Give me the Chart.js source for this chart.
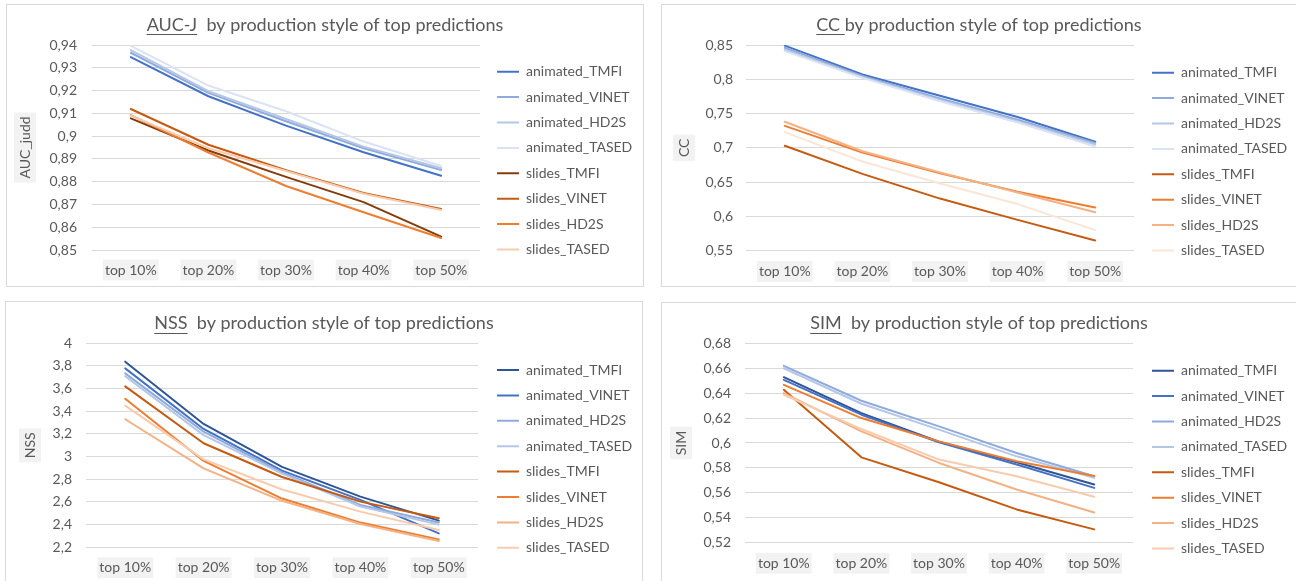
<!DOCTYPE html>
<html><head><meta charset="utf-8">
<script src="https://cdn.jsdelivr.net/npm/chart.js@4.4.1/dist/chart.umd.min.js"></script>
<style>
html,body{margin:0;padding:0;background:#fff;overflow:hidden;width:1296px;height:581px;position:relative;}
.panel{position:absolute;border:1px solid #d9d9d9;background:#fff;}
canvas{display:block;}
</style></head><body>
<div class="panel" id="w0"><canvas id="c0"></canvas></div>
<div class="panel" id="w1"><canvas id="c1"></canvas></div>
<div class="panel" id="w2"><canvas id="c2"></canvas></div>
<div class="panel" id="w3"><canvas id="c3"></canvas></div>
<script>
// ---------- data ----------
const categories = ['top 10%', 'top 20%', 'top 30%', 'top 40%', 'top 50%'];
const seriesNames = ['animated_TMFI', 'animated_VINET', 'animated_HD2S', 'animated_TASED',
                     'slides_TMFI', 'slides_VINET', 'slides_HD2S', 'slides_TASED'];

const aucjValues = [
  [0.9347, 0.9175, 0.9046, 0.8929, 0.8826],
  [0.9366, 0.9190, 0.9065, 0.8947, 0.8851],
  [0.9378, 0.9197, 0.9075, 0.8954, 0.8859],
  [0.9396, 0.9222, 0.9109, 0.8976, 0.8869],
  [0.9078, 0.8937, 0.8821, 0.8710, 0.8559],
  [0.9119, 0.8962, 0.8850, 0.8750, 0.8680],
  [0.9092, 0.8928, 0.8781, 0.8666, 0.8553],
  [0.9090, 0.8947, 0.8847, 0.8747, 0.8676]
];
const ccValues = [
  [0.849, 0.807, 0.776, 0.745, 0.709],
  [0.846, 0.805, 0.772, 0.741, 0.707],
  [0.843, 0.803, 0.770, 0.739, 0.705],
  [0.841, 0.802, 0.768, 0.737, 0.702],
  [0.703, 0.662, 0.626, 0.595, 0.565],
  [0.732, 0.693, 0.663, 0.636, 0.613],
  [0.738, 0.695, 0.664, 0.635, 0.606],
  [0.723, 0.680, 0.648, 0.618, 0.580]
];
const nssValues = [
  [3.838, 3.288, 2.910, 2.647, 2.435],
  [3.779, 3.244, 2.876, 2.618, 2.323],
  [3.735, 3.220, 2.860, 2.574, 2.418],
  [3.710, 3.190, 2.850, 2.560, 2.400],
  [3.620, 3.118, 2.820, 2.603, 2.456],
  [3.510, 2.962, 2.630, 2.418, 2.270],
  [3.330, 2.897, 2.610, 2.406, 2.255],
  [3.450, 2.976, 2.710, 2.515, 2.353]
];
const simValues = [
  [0.6528, 0.6240, 0.6010, 0.5845, 0.5667],
  [0.6507, 0.6227, 0.6005, 0.5827, 0.5640],
  [0.6619, 0.6339, 0.6133, 0.5920, 0.5733],
  [0.6600, 0.6315, 0.6107, 0.5893, 0.5720],
  [0.6427, 0.5885, 0.5685, 0.5467, 0.5307],
  [0.6467, 0.6200, 0.6013, 0.5853, 0.5735],
  [0.6400, 0.6093, 0.5840, 0.5627, 0.5443],
  [0.6387, 0.6112, 0.5867, 0.5733, 0.5568]
];

// ---------- styles ----------
const paletteAUC = ['#4472C4', '#8FAADC', '#B4C7E7', '#DAE3F3', '#843C0C', '#C55A11', '#ED7D31', '#F8CBAD'];
const paletteCC  = ['#4472C4', '#8FAADC', '#B4C7E7', '#DAE3F3', '#C55A11', '#ED7D31', '#F4B183', '#FBE5D6'];
const paletteNSS = ['#2F5597', '#4472C4', '#8FAADC', '#B4C7E7', '#C55A11', '#ED7D31', '#F4B183', '#F8CBAD'];
const paletteSIM = ['#2F5597', '#4472C4', '#8FAADC', '#B4C7E7', '#C55A11', '#ED7D31', '#F4B183', '#F8CBAD'];

const TEXT = '#595959';
const FONT = "Lato, 'Liberation Sans', sans-serif";
const TICK_SIZE = 14, TITLE_SIZE = 18, LEG_SIZE = 14, LEG_PAD = 11.4;

const panels = [
  {canvas: 'c0', wrap: 'w0', title: 'AUC-J  by production style of top predictions', word: 'AUC-J', yTitle: 'AUC_judd',
   values: aucjValues, colors: paletteAUC, min: 0.85, max: 0.94, step: 0.01,
   g: {L: 7, T: 5, W: 636, H: 281, cL: 92, cR: 480, cT: 45, cB: 250, titleY: 25, legY: 71.7, xLabY: 270, yTitX: 25, yTickR: 77, swatch: 497, noRight: false}},
  {canvas: 'c1', wrap: 'w1', title: 'CC by production style of top predictions', word: 'CC ', yTitle: 'CC',
   values: ccValues, colors: paletteCC, min: 0.55, max: 0.85, step: 0.05,
   g: {L: 662, T: 5, W: 634, H: 281, cL: 746, cR: 1134, cT: 45, cB: 250.7, titleY: 25, legY: 72.7, xLabY: 271.5, yTitX: 684, yTickR: 733, swatch: 1152, noRight: true}},
  {canvas: 'c2', wrap: 'w2', title: 'NSS  by production style of top predictions', word: 'NSS', yTitle: 'NSS',
   values: nssValues, colors: paletteNSS, min: 2.2, max: 4, step: 0.2,
   g: {L: 6, T: 302, W: 636, H: 280, cL: 86, cR: 478, cT: 343.3, cB: 547.3, titleY: 323.3, legY: 370, xLabY: 567.7, yTitX: 30, yTickR: 72, swatch: 497, noRight: false}},
  {canvas: 'c3', wrap: 'w3', title: 'SIM  by production style of top predictions', word: 'SIM', yTitle: 'SIM',
   values: simValues, colors: paletteSIM, min: 0.52, max: 0.68, step: 0.02,
   g: {L: 662, T: 303, W: 634, H: 280, cL: 745, cR: 1133, cT: 343.3, cB: 542.7, titleY: 323.3, legY: 370.7, xLabY: 563.3, yTitX: 681, yTickR: 731, swatch: 1152, noRight: true}}
];

const fmt = v => String(parseFloat(Number(v).toFixed(4))).replace('.', ',');

// fixed legend width + horizontal nudge
const legendFix = {
  id: 'legendFix',
  beforeLayout(chart, args, opts) {
    const lg = chart.legend;
    if (lg && !lg.__fixed) {
      const orig = lg.fit.bind(lg);
      lg.fit = function () { orig(); this.width = opts.width; };
      lg.__fixed = true;
    }
  },
  afterLayout(chart, args, opts) {
    const lg = chart.legend;
    if (lg) { lg.left += opts.dx; lg.right += opts.dx; }
  }
};

// backdrop behind y-axis title
const yTitleBox = {
  id: 'yTitleBox',
  beforeDraw(chart, args, opts) {
    const s = chart.scales.y; const ctx = chart.ctx;
    const t = s.options.title;
    ctx.save();
    ctx.font = `${t.font.size}px ${FONT}`;
    const w = ctx.measureText(t.text).width;
    const lh = t.font.size * 1.2;
    const cx = s.left + t.padding.top + lh / 2;
    const cy = (s.top + s.bottom) / 2;
    ctx.fillStyle = '#F2F2F2';
    ctx.fillRect(cx - 11, cy - w / 2 - 4, 22, w + 8);
    ctx.restore();
  }
};

// underline for the first word of chart title
const titleUnderline = {
  id: 'titleUnderline',
  afterDraw(chart, args, opts) {
    const tb = chart.titleBlock; const ctx = chart.ctx;
    const t = chart.options.plugins.title;
    ctx.save();
    ctx.font = `${TITLE_SIZE}px ${FONT}`;
    const full = ctx.measureText(t.text).width;
    const first = ctx.measureText(opts.word).width;
    const cx = (tb.left + tb.right) / 2;
    const x0 = cx - full / 2;
    const y = tb.top + t.padding.top + TITLE_SIZE * 1.2 / 2 + TITLE_SIZE * 0.52;
    ctx.strokeStyle = TEXT; ctx.lineWidth = 1;
    ctx.beginPath(); ctx.moveTo(x0, Math.round(y) + 0.5); ctx.lineTo(x0 + first, Math.round(y) + 0.5); ctx.stroke();
    ctx.restore();
  }
};

function build(p) {
  const g = p.g;
  const wrap = document.getElementById(p.wrap);
  wrap.style.left = (g.L - 1) + 'px';
  wrap.style.top = (g.T - 1) + 'px';
  if (g.noRight) wrap.style.borderRight = 'none';
  const cv = document.getElementById(p.canvas);
  cv.width = g.W; cv.height = g.H;

  const lh = TICK_SIZE * 1.2;
  const titleLH = TITLE_SIZE * 1.2;
  const titlePadTop = g.titleY - g.T - titleLH / 2;
  const titlePadBottom = (g.cT - g.T) - titlePadTop - titleLH;
  const legTitlePad = g.legY - g.T - 1 - LEG_PAD - LEG_SIZE / 2;
  const N = seriesNames.length;

  const datasets = seriesNames.map((name, i) => ({
    label: name,
    data: p.values[i],
    borderColor: p.colors[i],
    backgroundColor: p.colors[i],
    borderWidth: 2,
    pointRadius: 0,
    pointHoverRadius: 0,
    tension: 0,
    fill: false,
    borderJoinStyle: 'round',
    borderCapStyle: 'round',
    order: N - i
  }));

  new Chart(cv, {
    type: 'line',
    data: {labels: categories, datasets},
    plugins: [legendFix, yTitleBox, titleUnderline],
    options: {
      responsive: false,
      animation: false,
      events: [],
      layout: {padding: 0},
      plugins: {
        legendFix: {width: g.W - (g.cR - g.L), dx: g.swatch - g.cR - LEG_PAD},
        titleUnderline: {word: p.word},
        tooltip: {enabled: false},
        title: {
          display: true, text: p.title, color: TEXT,
          font: {family: FONT, size: TITLE_SIZE, weight: 'normal', lineHeight: 1.2},
          padding: {top: titlePadTop, bottom: titlePadBottom}
        },
        legend: {
          position: 'right', align: 'start', fullSize: true,
          title: {display: true, text: '', font: {size: 1, lineHeight: 1}, padding: {top: legTitlePad, bottom: 0}},
          labels: {
            usePointStyle: true, pointStyle: 'line', pointStyleWidth: 22,
            color: TEXT, padding: LEG_PAD,
            font: {family: FONT, size: LEG_SIZE},
            sort: (a, b) => a.datasetIndex - b.datasetIndex
          }
        }
      },
      scales: {
        x: {
          offset: true,
          grid: {display: false, drawTicks: false},
          border: {display: false},
          ticks: {
            color: TEXT, font: {family: FONT, size: TICK_SIZE},
            padding: g.xLabY - g.cB - lh / 2,
            maxRotation: 0, autoSkip: false,
            showLabelBackdrop: true, backdropColor: '#F2F2F2', backdropPadding: {x: 2, y: 2}
          },
          afterFit: s => { s.height = g.H - (g.cB - g.T); }
        },
        y: {
          min: p.min, max: p.max,
          grid: {color: '#D9D9D9', lineWidth: 1, drawTicks: false},
          border: {display: false},
          ticks: {
            stepSize: p.step, color: TEXT, font: {family: FONT, size: TICK_SIZE},
            padding: g.cL - g.yTickR,
            callback: v => fmt(v)
          },
          title: {
            display: true, text: p.yTitle, color: TEXT,
            font: {family: FONT, size: TICK_SIZE},
            padding: {top: g.yTitX - g.L - lh / 2, bottom: 0}
          },
          afterFit: s => { s.width = g.cL - g.L; }
        }
      }
    }
  });
}

Chart.defaults.font.family = FONT;
Chart.defaults.color = TEXT;
const go = () => panels.forEach(build);
if (document.fonts && document.fonts.load) {
  Promise.all([document.fonts.load(`14px Lato`), document.fonts.load(`18px Lato`)]).then(go, go);
} else { go(); }
</script>
</body></html>
